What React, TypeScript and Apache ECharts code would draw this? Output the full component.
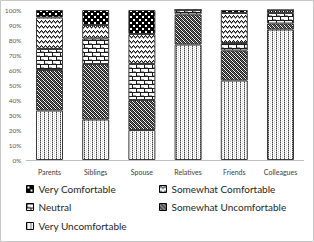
import { useEffect, useRef } from 'react';
import * as echarts from 'echarts';

const categories = ['Parents', 'Siblings', 'Spouse', 'Relatives', 'Friends', 'Colleagues'];
const yTicks = [0, 10, 20, 30, 40, 50, 60, 70, 80, 90, 100];

const veryUncomfortable = [33, 27, 20, 77, 53, 87];
const somewhatUncomfortable = [27, 37, 20, 20, 20, 4];
const neutral = [14, 17, 24, 3, 5, 7];
const somewhatComfortable = [21, 9, 20, 0, 20, 2];
const veryComfortable = [5, 10, 16, 0, 2, 0];

type Px = [number, number, string];

function makePattern(w: number, h: number, pixels: Px[]) {
  const c = document.createElement('canvas');
  c.width = w;
  c.height = h;
  const ctx = c.getContext('2d')!;
  ctx.fillStyle = '#ffffff';
  ctx.fillRect(0, 0, w, h);
  for (const [x, y, col] of pixels) {
    ctx.fillStyle = col;
    ctx.fillRect(x, y, 1, 1);
  }
  return { image: c, repeat: 'repeat' } as any;
}

function patVU() {
  return makePattern(4, 2, [
    [0, 0, '#404040'],
    [0, 1, '#a8a8a8'],
    [2, 1, '#d0d0d0'],
  ]);
}
function patSU() {
  const px: Px[] = [];
  for (let y = 0; y < 4; y++)
    for (let x = 0; x < 4; x++) {
      if ((x + y) % 2 === 0) px.push([x, y, '#1a1a1a']);
      else if ((x - y + 4) % 4 === 1) px.push([x, y, '#707070']);
    }
  return makePattern(4, 4, px);
}
function patN() {
  const px: Px[] = [];
  for (let x = 0; x < 8; x++) {
    px.push([x, 0, '#1a1a1a']);
    px.push([x, 4, '#1a1a1a']);
  }
  for (let y = 1; y < 4; y++) px.push([0, y, '#1a1a1a']);
  for (let y = 5; y < 8; y++) px.push([4, y, '#1a1a1a']);
  for (let x = 1; x < 4; x++) px.push([x, 3, '#a0a0a0']);
  for (let x = 5; x < 8; x++) px.push([x, 7, '#a0a0a0']);
  return makePattern(8, 8, px);
}
function patSC() {
  const ys = [1, 0, 1, 2];
  const px: Px[] = [];
  for (let x = 0; x < 4; x++) {
    px.push([x, ys[x], '#1a1a1a']);
    px.push([x, ys[x] + 1, '#8a8a8a']);
  }
  return makePattern(4, 5, px);
}
function patVC() {
  const px: Px[] = [];
  for (let y = 0; y < 6; y++)
    for (let x = 0; x < 6; x++) {
      const w1 = (x === 1 || x === 2) && (y === 1 || y === 2);
      const w2 = (x === 4 || x === 5) && (y === 4 || y === 5);
      if (!w1 && !w2) px.push([x, y, '#000000']);
    }
  return makePattern(6, 6, px);
}

export default function App() {
  const ref = useRef<HTMLDivElement>(null);
  useEffect(() => {
    document.body.style.margin = '0';
    const chart = echarts.init(ref.current!, null, { renderer: 'svg' });
    const font = 'Lato';
    const mk = (name: string, data: number[], color: any) => ({
      name,
      type: 'bar',
      stack: 'total',
      barWidth: 27,
      data,
      itemStyle: { color, borderColor: '#3a3a3a', borderWidth: 1 },
    });
    const legendItem = (name: string, left: number, top: number) => ({
      data: [name],
      left,
      top,
      icon: 'rect',
      itemWidth: 7,
      itemHeight: 7,
      padding: 0,
      selectedMode: false,
      itemStyle: { borderColor: '#000', borderWidth: 1 },
      textStyle: { fontFamily: font, fontSize: 10, color: '#262626' },
    });
    chart.setOption({
      animation: false,
      backgroundColor: '#ffffff',
      graphic: [
        {
          type: 'rect',
          shape: { x: 0.5, y: 0.5, width: 313, height: 241 },
          style: { fill: 'none', stroke: '#c8c8c8', lineWidth: 1 },
          silent: true,
        },
      ],
      grid: { left: 26.4, right: 10.4, top: 10, bottom: 82 },
      legend: [
        legendItem('Very Comfortable', 26, 184),
        legendItem('Somewhat Comfortable', 159, 184),
        legendItem('Neutral', 26, 202),
        legendItem('Somewhat Uncomfortable', 159, 202),
        legendItem('Very Uncomfortable', 26, 221),
      ],
      xAxis: {
        type: 'category',
        data: categories,
        axisLine: { lineStyle: { color: '#bfbfbf', width: 1 } },
        axisTick: { show: false },
        axisLabel: { fontFamily: font, fontSize: 7, color: '#404040', margin: 8 },
      },
      yAxis: {
        type: 'value',
        min: yTicks[0],
        max: yTicks[yTicks.length - 1],
        interval: 10,
        axisLine: { show: false },
        axisTick: { show: false },
        splitLine: { show: false },
        axisLabel: { fontFamily: font, fontSize: 6.5, color: '#595959', margin: 5, formatter: '{value}%' },
      },
      series: [
        mk('Very Uncomfortable', veryUncomfortable, patVU()),
        mk('Somewhat Uncomfortable', somewhatUncomfortable, patSU()),
        mk('Neutral', neutral, patN()),
        mk('Somewhat Comfortable', somewhatComfortable, patSC()),
        mk('Very Comfortable', veryComfortable, patVC()),
      ],
    });
    return () => chart.dispose();
  }, []);
  return <div ref={ref} style={{ width: 314, height: 242 }} />;
}
